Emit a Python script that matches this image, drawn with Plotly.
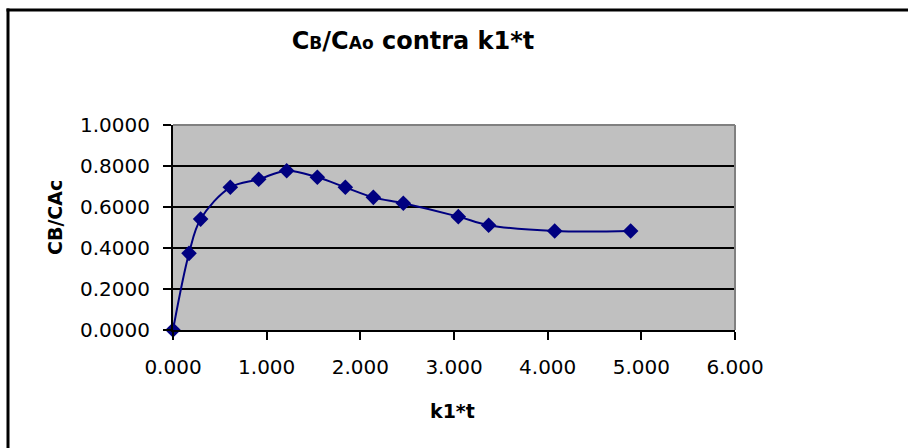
import plotly.graph_objects as go

k1t = [0.0, 0.171, 0.295, 0.612, 0.915, 1.214, 1.541, 1.840, 2.139, 2.459, 3.046, 3.370, 4.075, 4.886]
cb_ca0 = [0.0, 0.374, 0.541, 0.696, 0.735, 0.777, 0.745, 0.696, 0.647, 0.618, 0.553, 0.511, 0.483, 0.483]

x_ticks = [0, 1, 2, 3, 4, 5, 6]
y_ticks = [0.0, 0.2, 0.4, 0.6, 0.8, 1.0]

W, H = 908, 448
L, R, T, B = 173, 173, 125, 118
pw, ph = W - L - R, H - T - B

def px(xp):
    return (xp - L) / pw

def py(yp):
    return (H - B - yp) / ph

FONT = "DejaVu Sans"
NAVY = "#000080"

fig = go.Figure()
fig.add_trace(go.Scatter(
    x=k1t, y=cb_ca0, mode="lines+markers",
    line=dict(color=NAVY, width=2, shape="spline"),
    marker=dict(symbol="diamond", size=12, color=NAVY),
    cliponaxis=False, showlegend=False,
))

fig.update_layout(
    width=W, height=H,
    margin=dict(l=L, r=R, t=T, b=B, pad=0),
    paper_bgcolor="white", plot_bgcolor="#C0C0C0",
    font=dict(family=FONT, color="black", size=20),
    title=dict(
        text="<b>C<span style='font-size:17px'>B</span>/C<span style='font-size:17px'>Ao</span> contra k1*t</b>",
        font=dict(family=FONT, size=24, color="black"),
        x=413 / W, xref="container", xanchor="center",
        y=1 - 41 / H, yref="container", yanchor="middle",
    ),
    xaxis=dict(
        range=[0, 6], tickvals=x_ticks, tickformat=".3f",
        showgrid=False, zeroline=False,
        showline=True, linecolor="black", linewidth=2,
        ticks="outside", ticklen=8, tickwidth=2, tickcolor="black",
        ticklabelstandoff=10,
        tickfont=dict(family=FONT, size=20, color="black"),
    ),
    yaxis=dict(
        range=[0, 1.0], tickvals=y_ticks, tickformat=".4f",
        showgrid=True, gridcolor="black", gridwidth=2, zeroline=False,
        showline=True, linecolor="black", linewidth=2,
        ticks="outside", ticklen=8, tickwidth=2, tickcolor="black",
        ticklabelstandoff=9,
        tickfont=dict(family=FONT, size=20, color="black"),
    ),
    annotations=[
        dict(text="<b>CB/CAc</b>", xref="paper", yref="paper",
             x=px(55), y=py(218), xanchor="center", yanchor="middle",
             textangle=-90, showarrow=False,
             font=dict(family=FONT, size=19, color="black")),
        dict(text="<b>k1*t</b>", xref="paper", yref="paper",
             x=px(452), y=py(411), xanchor="center", yanchor="middle",
             showarrow=False,
             font=dict(family=FONT, size=19, color="black")),
    ],
    shapes=[
        dict(type="line", xref="paper", yref="paper", x0=0, x1=1, y0=1, y1=1,
             line=dict(color="#808080", width=2), layer="above"),
        dict(type="line", xref="paper", yref="paper", x0=1, x1=1, y0=0, y1=1,
             line=dict(color="#808080", width=2), layer="above"),
        dict(type="line", xref="paper", yref="paper",
             x0=px(8), x1=px(8), y0=py(448), y1=py(8.5),
             line=dict(color="black", width=3), layer="above"),
        dict(type="line", xref="paper", yref="paper",
             x0=px(6.5), x1=px(908), y0=py(10), y1=py(10),
             line=dict(color="black", width=3), layer="above"),
    ],
)

fig.write_html("out.html")
